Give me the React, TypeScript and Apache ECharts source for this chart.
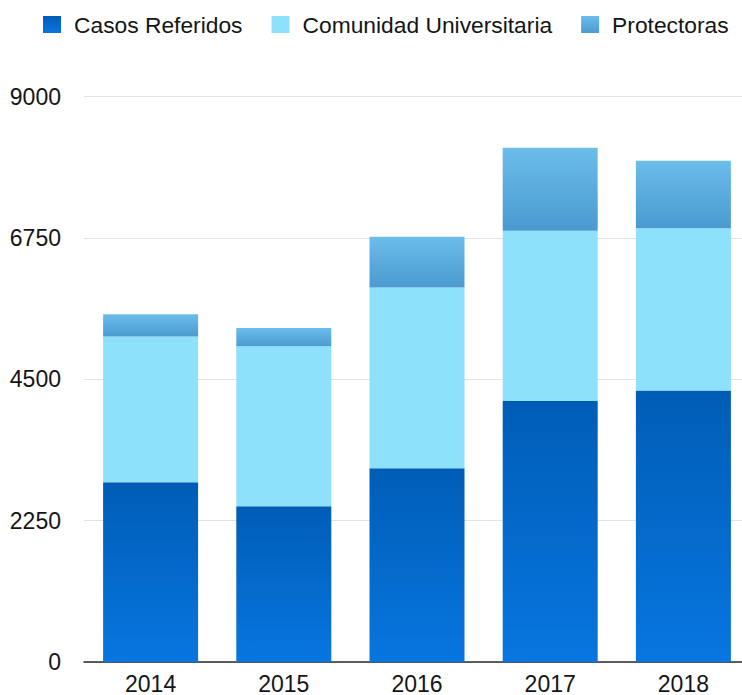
import React, { useEffect, useRef } from "react";
import * as echarts from "echarts";

const years = ["2014", "2015", "2016", "2017", "2018"];
const casosReferidos = [2860, 2480, 3085, 4155, 4320];
const comunidadUniversitaria = [2320, 2545, 2875, 2710, 2585];
const protectoras = [355, 290, 810, 1320, 1075];
const yTicks = [0, 2250, 4500, 6750, 9000];

const FONT = "'Liberation Sans', Arial, Helvetica, sans-serif";

const grad = (top: string, bottom: string) =>
  new echarts.graphic.LinearGradient(0, 0, 0, 1, [
    { offset: 0, color: top },
    { offset: 1, color: bottom },
  ]);

export default function App() {
  const ref = useRef<HTMLDivElement>(null);
  useEffect(() => {
    if (!ref.current) return;
    const chart = echarts.init(ref.current, undefined, { renderer: "svg" });
    chart.setOption({
      animation: false,
      backgroundColor: "#ffffff",
      legend: {
        top: 13,
        left: 43,
        padding: 0,
        itemWidth: 18,
        itemHeight: 17,
        itemGap: 29,
        icon: "rect",
        textStyle: { fontFamily: FONT, fontSize: 22.8, color: "#151515", padding: [0, 0, 0, 8] },
        data: ["Casos Referidos", "Comunidad Universitaria", "Protectoras"],
      },
      grid: { left: 84, right: 0, top: 96.6, bottom: 33, containLabel: false },
      xAxis: {
        type: "category",
        data: years,
        axisLine: { lineStyle: { color: "#2a2a2a", width: 1.5 } },
        axisTick: { show: false },
        axisLabel: { fontFamily: FONT, fontSize: 23, color: "#151515", margin: 10 },
      },
      yAxis: {
        type: "value",
        min: yTicks[0],
        max: yTicks[yTicks.length - 1],
        interval: 2250,
        axisLine: { show: false },
        axisTick: { show: false },
        splitLine: { lineStyle: { color: "#e2e2e2", width: 1 } },
        axisLabel: {
          fontFamily: FONT,
          fontSize: 23,
          color: "#151515",
          margin: 23,
          formatter: (v: number) => String(v),
        },
      },
      series: [
        {
          name: "Casos Referidos",
          type: "bar",
          stack: "total",
          barWidth: 95,
          data: casosReferidos,
          itemStyle: { color: grad("#005db6", "#0876e0") },
        },
        {
          name: "Comunidad Universitaria",
          type: "bar",
          stack: "total",
          barWidth: 95,
          data: comunidadUniversitaria,
          itemStyle: { color: "#8ee1fb" },
        },
        {
          name: "Protectoras",
          type: "bar",
          stack: "total",
          barWidth: 95,
          data: protectoras,
          itemStyle: { color: grad("#6bbdea", "#4a9ad0") },
        },
      ],
    });
    return () => chart.dispose();
  }, []);
  return (
    <div
      ref={ref}
      style={{ position: "fixed", left: 0, top: 0, width: 750, height: 695 }}
    />
  );
}
